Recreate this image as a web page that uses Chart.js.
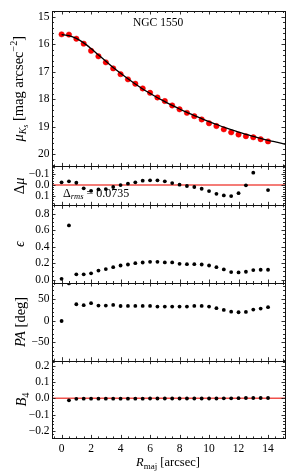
<!DOCTYPE html>
<html><head><meta charset="utf-8">
<script src="https://cdn.jsdelivr.net/npm/chart.js@4.4.0/dist/chart.umd.min.js"></script>
<style>
html,body{margin:0;padding:0;background:#fff;}
#wrap{position:relative;width:293px;height:471px;overflow:hidden;background:#fff;}
#wrap canvas{position:absolute;left:0;top:0;}
</style></head>
<body>
<div id="wrap">
<canvas id="c1" width="293" height="471"></canvas>
<canvas id="c2" width="293" height="471"></canvas>
<canvas id="c3" width="293" height="471"></canvas>
<canvas id="c4" width="293" height="471"></canvas>
<canvas id="c5" width="293" height="471"></canvas>
</div>
<script>
// ---------------- data ----------------
const rMaj = [0,0.5,1,1.5,2,2.5,3,3.5,4,4.5,5,5.5,6,6.5,7,7.5,8,8.5,9,9.5,10,10.5,11,11.5,12,12.5,13,13.5,14];
const muKs = [15.64,15.65,15.80,15.98,16.24,16.44,16.66,16.88,17.09,17.28,17.44,17.61,17.77,17.94,18.07,18.23,18.37,18.50,18.62,18.74,18.88,18.98,19.10,19.21,19.29,19.35,19.39,19.46,19.54];
const modelR = [0,0.5,1,1.5,2,2.5,3,3.5,4,4.5,5,5.5,6,6.5,7,7.5,8,8.5,9,9.5,10,10.5,11,11.5,12,12.5,13,13.5,14,14.5,15,15.2];
const modelMu = [15.65,15.69,15.79,15.95,16.16,16.39,16.62,16.85,17.06,17.26,17.45,17.63,17.79,17.95,18.09,18.23,18.36,18.48,18.60,18.71,18.82,18.92,19.02,19.11,19.20,19.28,19.36,19.43,19.50,19.56,19.62,19.65];
const deltaMu = [-0.025,-0.034,-0.021,0.030,0.053,0.040,0.037,0.018,0.000,-0.012,-0.025,-0.040,-0.043,-0.043,-0.034,-0.018,-0.003,0.009,0.018,0.034,0.055,0.080,0.095,0.101,0.074,0.003,-0.113,null,0.046];
const ellip = [0.010,0.657,0.065,0.065,0.077,0.110,0.128,0.152,0.172,0.184,0.200,0.208,0.216,0.216,0.209,0.209,0.192,0.188,0.188,0.184,0.172,0.152,0.124,0.092,0.088,0.096,0.116,0.120,0.120];
const posAng = [-0.5,86,38,36,40.5,35,35,36.6,34,34.3,34.3,34.3,34.3,32.7,32.7,32.7,32.7,32.7,34.3,34.3,32.7,28.9,25,21,19.6,20.4,25.7,28,31.2];
const b4 = [null,-0.012,-0.003,-0.002,-0.002,-0.002,-0.002,-0.002,-0.002,-0.002,-0.002,-0.002,-0.001,-0.001,-0.001,-0.001,-0.001,-0.001,-0.001,-0.001,-0.001,-0.001,0,0,0.001,0.002,0.002,0.002,0.002];

const xTicks = [0,2,4,6,8,10,12,14];
const xTickLabels = ['0','2','4','6','8','10','12','14'];
const muTicks = [15,16,17,18,19,20];
const muTickLabels = ['15','16','17','18','19','20'];
const dMuTicks = [-0.1,0,0.1];
const dMuTickLabels = ['\u22120.1','0.0','0.1'];
const epsTicks = [0,0.2,0.4,0.6,0.8];
const epsTickLabels = ['0.0','0.2','0.4','0.6','0.8'];
const paTicks = [-50,0,50];
const paTickLabels = ['\u221250','0','50'];
const b4Ticks = [-0.2,-0.1,0,0.1,0.2];
const b4TickLabels = ['\u22120.2','\u22120.1','0.0','0.1','0.2'];

const galaxyName = 'NGC 1550';
const rmsText = ' = 0.0735';

// ---------------- helpers ----------------
const FONT = '"Liberation Serif", "Times New Roman", serif';
function pts(xs, ys){ return xs.map((x,i)=>({x:x, y:ys[i]})); }

function drawRich(ctx, segs, x, y, rotate, align){
  ctx.save();
  ctx.translate(x, y);
  if (rotate) ctx.rotate(-Math.PI/2);
  ctx.textBaseline = 'alphabetic';
  ctx.textAlign = 'left';
  ctx.fillStyle = '#000';
  const widths = segs.map(s => { ctx.font = (s.it ? 'italic ' : '') + s.size + 'px ' + FONT; return ctx.measureText(s.t).width; });
  const total = widths.reduce((a,b)=>a+b,0);
  let cx = align === 'center' ? -total/2 : 0;
  segs.forEach((s,i) => {
    ctx.font = (s.it ? 'italic ' : '') + s.size + 'px ' + FONT;
    ctx.fillText(s.t, cx, s.dy || 0);
    cx += widths[i];
  });
  ctx.restore();
}

const panelPlugin = {
  id: 'panel',
  beforeDatasetsDraw(chart, args, opts){
    if (opts.refLine === undefined) return;
    const ctx = chart.ctx, a = chart.chartArea;
    const y = chart.scales.y.getPixelForValue(opts.refLine);
    ctx.save();
    ctx.strokeStyle = '#f0504a';
    ctx.lineWidth = 1.4;
    ctx.beginPath(); ctx.moveTo(a.left, y); ctx.lineTo(a.right, y); ctx.stroke();
    ctx.restore();
  },
  afterDraw(chart, args, opts){
    const ctx = chart.ctx, a = chart.chartArea;
    const xs = chart.scales.x, ys = chart.scales.y;
    ctx.save();
    ctx.strokeStyle = '#1a1a1a';
    ctx.lineWidth = 0.9;
    const majL = 3.5, minL = 2;
    const xMaj = opts.xMajor, xMinStep = opts.xMinorStep;
    function isMajor(v, arr){ return arr.some(m => Math.abs(m - v) < 1e-6); }
    ctx.beginPath();
    for (let k = Math.ceil(xs.min / xMinStep - 1e-9); k * xMinStep <= xs.max + 1e-9; k++){
      const v = k * xMinStep;
      const L = isMajor(v, xMaj) ? majL : minL;
      const px = Math.round(xs.getPixelForValue(v)) + 0.5;
      ctx.moveTo(px, a.top); ctx.lineTo(px, a.top + L);
      ctx.moveTo(px, a.bottom); ctx.lineTo(px, a.bottom - L);
    }
    const yMaj = opts.yMajor, yMinStep = opts.yMinorStep;
    const ylo = Math.min(ys.min, ys.max), yhi = Math.max(ys.min, ys.max);
    for (let k = Math.ceil(ylo / yMinStep - 1e-9); k * yMinStep <= yhi + 1e-9; k++){
      const v = k * yMinStep;
      const L = isMajor(v, yMaj) ? majL : minL;
      const py = Math.round(ys.getPixelForValue(v)) + 0.5;
      ctx.moveTo(a.left, py); ctx.lineTo(a.left + L, py);
      ctx.moveTo(a.right, py); ctx.lineTo(a.right - L, py);
    }
    ctx.stroke();
    ctx.lineWidth = 1;
    ctx.strokeStyle = '#111';
    ctx.strokeRect(Math.round(a.left) + 0.5, Math.round(a.top) + 0.5, Math.round(a.right) - Math.round(a.left), Math.round(a.bottom) - Math.round(a.top));
    ctx.restore();
    if (opts.yTitle){
      drawRich(ctx, opts.yTitle, opts.yTitleX, (a.top + a.bottom)/2, true, 'center');
    }
    if (opts.extra) opts.extra(chart);
  }
};

function makePanel(id, cfg){
  const xScale = {
    type: 'linear', min: -0.65, max: 15.15, display: !!cfg.showX,
    grid: { display: false, drawTicks: false }, border: { display: false },
    afterBuildTicks: s => { s.ticks = xTicks.map(v => ({ value: v })); },
    ticks: { color: '#000', padding: 4, maxRotation: 0, autoSkip: false, font: { family: FONT, size: 11.5 },
             callback: (v, i) => xTickLabels[i] }
  };
  if (cfg.showX) xScale.afterFit = s => { s.height = 32.6; };
  return new Chart(document.getElementById(id), {
    type: 'scatter',
    data: { datasets: cfg.datasets },
    options: {
      responsive: false, animation: false, devicePixelRatio: 1,
      layout: { padding: { left: 0, right: 8, top: cfg.top, bottom: cfg.bottom } },
      plugins: { legend: { display: false }, tooltip: { enabled: false }, panel: cfg.panel },
      scales: {
        x: xScale,
        y: {
          type: 'linear', min: cfg.ymin, max: cfg.ymax, reverse: !!cfg.reverse,
          grid: { display: false, drawTicks: false }, border: { display: false },
          afterBuildTicks: s => { s.ticks = cfg.yTicks.map(v => ({ value: v })); },
          afterFit: s => { s.width = 52; },
          ticks: { color: '#000', padding: 2.5, autoSkip: false, font: { family: FONT, size: 11.5 },
                   callback: (v, i) => cfg.yLabels[i] }
        }
      }
    },
    plugins: [panelPlugin]
  });
}

const blackPts = (ys) => ({ data: pts(rMaj, ys), pointRadius: 1.9, pointBackgroundColor: '#000', pointBorderColor: '#000', pointBorderWidth: 0, showLine: false, clip: 0 });
const TS = 14.5;

makePanel('c1', {
  top: 11, bottom: 304.6, ymin: 14.79, ymax: 20.45, reverse: true,
  yTicks: muTicks, yLabels: muTickLabels,
  datasets: [
    { data: pts(modelR, modelMu), showLine: true, borderColor: '#000', borderWidth: 1.3, pointRadius: 0, tension: 0.3, clip: 0 },
    { data: pts(rMaj, muKs), pointRadius: 2.7, pointBackgroundColor: '#ff0000', pointBorderColor: '#e00000', pointBorderWidth: 0.5, showLine: false, clip: 0 }
  ],
  panel: {
    xMajor: xTicks, xMinorStep: 0.5, yMajor: muTicks, yMinorStep: 0.2, yTitleX: 23,
    yTitle: [
      { t: '\u03bc', it: true, size: TS },
      { t: 'K', it: true, size: TS*0.7, dy: 3 },
      { t: 's', it: true, size: TS*0.5, dy: 5 },
      { t: ' [mag arcsec', size: TS },
      { t: '\u22122', size: TS*0.7, dy: -6 },
      { t: ']', size: TS }
    ],
    extra: (chart) => {
      drawRich(chart.ctx, [{ t: galaxyName, size: 11.5 }], 133, 26, false, 'left');
    }
  }
});

makePanel('c2', {
  top: 166.4, bottom: 265.7, ymin: -0.17, ymax: 0.185, reverse: true,
  yTicks: dMuTicks, yLabels: dMuTickLabels,
  datasets: [ blackPts(deltaMu) ],
  panel: {
    refLine: 0, xMajor: xTicks, xMinorStep: 0.5, yMajor: dMuTicks, yMinorStep: 0.02, yTitleX: 24,
    yTitle: [ { t: '\u0394', size: TS }, { t: '\u03bc', it: true, size: TS } ],
    extra: (chart) => {
      drawRich(chart.ctx, [
        { t: '\u0394', size: 12 }, { t: 'rms', it: true, size: 8.5, dy: 2.5 }, { t: rmsText, size: 12 }
      ], 63, 196.5, false, 'left');
    }
  }
});

makePanel('c3', {
  top: 205.3, bottom: 188, ymin: -0.04, ymax: 0.9,
  yTicks: epsTicks, yLabels: epsTickLabels,
  datasets: [ blackPts(ellip) ],
  panel: {
    xMajor: xTicks, xMinorStep: 0.5, yMajor: epsTicks, yMinorStep: 0.05, yTitleX: 24,
    yTitle: [ { t: '\u03f5', it: true, size: TS } ]
  }
});

makePanel('c4', {
  top: 283, bottom: 110.3, ymin: -92, ymax: 87,
  yTicks: paTicks, yLabels: paTickLabels,
  datasets: [ blackPts(posAng) ],
  panel: {
    xMajor: xTicks, xMinorStep: 0.5, yMajor: paTicks, yMinorStep: 10, yTitleX: 25,
    yTitle: [ { t: 'PA', it: true, size: TS }, { t: ' [deg]', size: TS } ]
  }
});

makePanel('c5', {
  top: 360.7, bottom: 0, ymin: -0.245, ymax: 0.23, showX: true,
  yTicks: b4Ticks, yLabels: b4TickLabels,
  datasets: [ blackPts(b4) ],
  panel: {
    refLine: 0, xMajor: xTicks, xMinorStep: 0.5, yMajor: b4Ticks, yMinorStep: 0.02, yTitleX: 26,
    yTitle: [ { t: 'B', it: true, size: TS }, { t: '4', size: TS*0.7, dy: 3 } ],
    extra: (chart) => {
      drawRich(chart.ctx, [
        { t: 'R', it: true, size: 12.5 }, { t: 'maj', size: 9, dy: 3 }, { t: ' [arcsec]', size: 12.5 }
      ], 168, 466, false, 'center');
    }
  }
});
</script>
</body></html>
